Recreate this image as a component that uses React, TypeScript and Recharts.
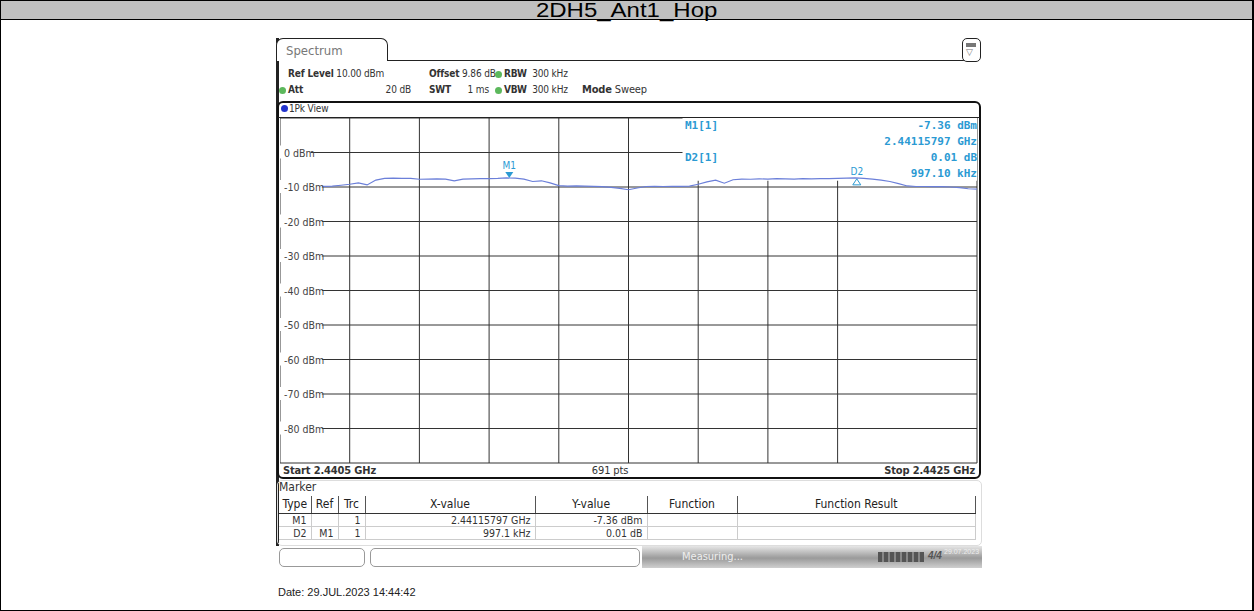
import React from 'react';
import { LineChart, Line, XAxis, YAxis, CartesianGrid, ReferenceArea, ReferenceDot } from 'recharts';

// sweep: 2.4405 GHz .. 2.4425 GHz, trace read every 25 kHz (values in dBm)
const startMHz = 2440.5;
const stopMHz = 2442.5;
const stepMHz = 0.025;
const traceLevels = [
  -10.5, -10.0, -9.9, -9.9, -9.85, -9.8, -9.75, -9.5, -9.2, -8.8,
  -9.4, -8.0, -7.5, -7.45, -7.5, -7.5, -7.75, -7.7, -7.65, -7.7,
  -8.2, -7.7, -7.65, -7.6, -7.55, -7.5, -7.38, -7.45, -7.7, -8.4,
  -8.2, -8.8, -9.6, -9.75, -9.7, -9.75, -9.8, -9.9, -10.1, -10.4,
  -10.8, -10.3, -9.85, -9.8, -9.85, -9.8, -9.8, -9.75, -9.2, -8.5,
  -8.0, -8.9, -7.9, -7.7, -7.75, -7.65, -7.7, -7.6, -7.65, -7.7,
  -7.6, -7.65, -7.6, -7.55, -7.5, -7.45, -7.37, -7.5, -7.7, -8.0,
  -8.4, -9.0, -9.7, -9.85, -9.85, -9.9, -9.9, -10.0, -10.2, -10.5,
  -10.6,
];
const freqTicks = [2440.5, 2440.7, 2440.9, 2441.1, 2441.3, 2441.5, 2441.7, 2441.9, 2442.1, 2442.3, 2442.5];
const levelTicks = [10, 0, -10, -20, -30, -40, -50, -60, -70, -80, -90];
const levelLabels = ['', '0 dBm', '-10 dBm', '-20 dBm', '-30 dBm', '-40 dBm', '-50 dBm', '-60 dBm', '-70 dBm', '-80 dBm', ''];

const markerNames = ['M1', 'D2'];
const markerRefs = ['', 'M1'];
const markerFreqMHz = [2441.15797, 2442.15507];
const markerLevels = [-7.36, -7.35];
const markerXText = ['2.44115797 GHz', '997.1 kHz'];
const markerYText = ['-7.36 dBm', '0.01 dB'];
const markerInfo = ['-7.36 dBm', '2.44115797 GHz', '0.01 dB', '997.10 kHz'];

const data = traceLevels.map((v, i) => ({ f: startMHz + i * stepMHz, v }));

const TRACE = '#6b7fd9';
const MK = '#2b9ad3';
const cond = "'DejaVu Sans Condensed', 'DejaVu Sans', sans-serif";
const mono = "'DejaVu Sans Mono', monospace";

const LevelTick = (props: any) => {
  const i = levelTicks.indexOf(props.payload.value);
  const label = levelLabels[i];
  if (!label) return null;
  const w = label.length * 5.4 + 4;
  return (
    <g>
      <rect x={0} y={props.y - 7} width={w} height={13} fill="#fff" />
      <text x={4} y={props.y + 4} fontSize={10.5} fill="#444" fontFamily={cond} style={{ fontStretch: 'condensed' }}>{label}</text>
    </g>
  );
};

const MarkerShape = (props: any) => {
  const { cx, cy, name } = props;
  if (name === 'M1') {
    return (
      <g>
        <text x={cx} y={cy - 9} fontSize={10} fill={MK} textAnchor="middle" fontFamily={cond}>{name}</text>
        <path d={`M${cx - 4},${cy - 6} L${cx + 4},${cy - 6} L${cx},${cy} Z`} fill={MK} />
      </g>
    );
  }
  return (
    <g>
      <text x={cx} y={cy - 3} fontSize={10} fill={MK} textAnchor="middle" fontFamily={cond}>{name}</text>
      <path d={`M${cx},${cy + 1} L${cx + 4},${cy + 7} L${cx - 4},${cy + 7} Z`} fill="none" stroke={MK} strokeWidth={1} />
    </g>
  );
};

const abs = (style: React.CSSProperties): React.CSSProperties => ({ position: 'absolute', ...style });

const Dot = ({ x, y, c }: { x: number; y: number; c: string }) => (
  <div style={abs({ left: x, top: y, width: 7, height: 7, borderRadius: 4, background: c })} />
);

export default function App() {
  const headStyle: React.CSSProperties = { fontFamily: cond, fontStretch: 'condensed', fontSize: 10, lineHeight: '12px', color: '#333', whiteSpace: 'nowrap', letterSpacing: -0.15 };
  const cell: React.CSSProperties = { fontFamily: cond, fontStretch: 'condensed', fontSize: 11, color: '#333', whiteSpace: 'nowrap' };
  return (
    <div style={abs({ left: 0, top: 0, width: 1254, height: 611, background: '#fff', overflow: 'hidden', fontFamily: "'Liberation Sans', Arial, sans-serif" })}>
      <div style={abs({ left: 0, top: 0, width: 1254, height: 611, border: '1px solid #000', borderRight: '2px solid #000', boxSizing: 'border-box' })} />
      <div style={abs({ left: 1, top: 1, width: 1251, height: 18, background: '#c0c0c0', borderBottom: '1px solid #000', textAlign: 'center', fontSize: 20, lineHeight: '18px', color: '#000' })}>
        <span style={{ display: 'inline-block', transform: 'scaleX(1.2)' }}>2DH5_Ant1_Hop</span>
      </div>

      {/* instrument screen */}
      <div style={abs({ left: 276, top: 38, width: 3, height: 508, background: '#222' })} />
      <div style={abs({ left: 276, top: 38, width: 112, height: 23, border: '1px solid #222', borderBottom: 'none', borderRadius: '7px 7px 0 0', boxSizing: 'border-box', background: '#fff' })}>
        <span style={{ position: 'absolute', left: 9, top: 4, fontSize: 13, color: '#777', fontFamily: cond }}>Spectrum</span>
      </div>
      <div style={abs({ left: 388, top: 60, width: 576, height: 1, background: '#222' })} />
      <div style={abs({ left: 962, top: 38, width: 19, height: 24, border: '1.5px solid #222', borderRadius: 5, boxSizing: 'border-box', background: '#fff' })}>
        <div style={abs({ left: 3, top: 4, width: 10, height: 4, background: '#777' })} />
        <div style={abs({ left: 3, top: 9, fontSize: 9, color: '#777', lineHeight: '9px' })}>▽</div>
      </div>

      <div style={abs({ left: 288, top: 68, ...headStyle })}>
        <b>Ref Level</b> 10.00 dBm
      </div>
      <div style={abs({ left: 429, top: 68, ...headStyle })}>
        <b>Offset</b> 9.86 dB
      </div>
      <Dot x={495} y={71} c="#5cb85c" />
      <div style={abs({ left: 504, top: 68, ...headStyle })}>
        <b>RBW</b>&nbsp; 300 kHz
      </div>
      <Dot x={279} y={87} c="#5cb85c" />
      <div style={abs({ left: 288, top: 84, ...headStyle })}>
        <b>Att</b>
      </div>
      <div style={abs({ left: 380, top: 84, width: 31, textAlign: 'right', ...headStyle })}>20 dB</div>
      <div style={abs({ left: 429, top: 84, ...headStyle })}>
        <b>SWT</b>
      </div>
      <div style={abs({ left: 460, top: 84, width: 29, textAlign: 'right', ...headStyle })}>1 ms</div>
      <Dot x={495} y={87} c="#5cb85c" />
      <div style={abs({ left: 504, top: 84, ...headStyle })}>
        <b>VBW</b>&nbsp; 300 kHz
      </div>
      <div style={abs({ left: 582, top: 84, ...headStyle, fontSize: 11 })}>
        <b>Mode</b> Sweep
      </div>

      {/* diagram box */}
      <div style={abs({ left: 277, top: 101, width: 704, height: 378, border: '2px solid #111', borderRadius: 6, boxSizing: 'border-box' })} />
      <Dot x={281} y={105} c="#2233cc" />
      <div style={abs({ left: 289, top: 103, ...headStyle })}>1Pk View</div>
      <div style={abs({ left: 278, top: 117, width: 702, height: 1, background: '#222' })} />

      <div style={abs({ left: 280, top: 118 })}>
        <LineChart width={698} height={346} data={data} margin={{ top: 0, right: 1, bottom: 1, left: 0 }}>
          <XAxis dataKey="f" type="number" domain={[startMHz, stopMHz]} ticks={freqTicks} hide />
          <YAxis type="number" domain={[-90, 10]} ticks={levelTicks} width={1} mirror axisLine={false} tickLine={false} tick={<LevelTick />} interval={0} zIndex={-50} />
          <CartesianGrid stroke="#333" strokeWidth={1} zIndex={-100} />
          <ReferenceArea x1={2441.655} x2={stopMHz} y1={-8.2} y2={10} fill="#fff" fillOpacity={1} stroke="none" ifOverflow="hidden" zIndex={-60} />
          <Line dataKey="v" stroke={TRACE} strokeWidth={1.2} dot={false} isAnimationActive={false} zIndex={700} />
          {markerNames.map((n, i) => (
            <ReferenceDot key={n} x={markerFreqMHz[i]} y={markerLevels[i]} r={0} shape={(p: any) => <MarkerShape {...p} name={n} />} zIndex={800} />
          ))}
        </LineChart>
      </div>

      {/* marker info */}
      <div style={abs({ left: 685, top: 119, fontFamily: mono, fontWeight: 'bold', fontSize: 11, color: MK })}>M1[1]</div>
      <div style={abs({ left: 685, top: 151, fontFamily: mono, fontWeight: 'bold', fontSize: 11, color: MK })}>D2[1]</div>
      {markerInfo.map((t, i) => (
        <div key={t} style={abs({ left: 777, top: 119 + i * 16, width: 200, textAlign: 'right', fontFamily: mono, fontWeight: 'bold', fontSize: 11, color: MK })}>{t}</div>
      ))}

      <div style={abs({ left: 283, top: 465, ...headStyle, fontSize: 11, fontWeight: 'bold' })}>Start 2.4405 GHz</div>
      <div style={abs({ left: 560, top: 465, width: 100, textAlign: 'center', ...headStyle, fontSize: 11 })}>691 pts</div>
      <div style={abs({ left: 775, top: 465, width: 200, textAlign: 'right', ...headStyle, fontSize: 11, fontWeight: 'bold' })}>Stop 2.4425 GHz</div>

      {/* marker table */}
      <div style={abs({ left: 277, top: 480, width: 705, height: 66, border: '1px solid #ddd', borderRadius: 5, boxSizing: 'border-box' })} />
      <div style={abs({ left: 279, top: 481, ...cell, fontSize: 12, lineHeight: '13px' })}>Marker</div>
      <table style={abs({ left: 279, top: 496, width: 697, borderCollapse: 'collapse' })}>
        <colgroup>
          <col style={{ width: 32 }} />
          <col style={{ width: 27 }} />
          <col style={{ width: 27 }} />
          <col style={{ width: 170 }} />
          <col style={{ width: 112 }} />
          <col style={{ width: 90 }} />
          <col />
        </colgroup>
        <thead>
          <tr style={{ height: 17 }}>
            {['Type', 'Ref', 'Trc', 'X-value', 'Y-value', 'Function', 'Function Result'].map((h) => (
              <th key={h} style={{ ...cell, fontSize: 12, lineHeight: '14px', fontWeight: 'normal', color: '#222', borderRight: '1px solid #555', borderBottom: '1px solid #333', padding: '0 3px', textAlign: 'center' }}>{h}</th>
            ))}
          </tr>
        </thead>
        <tbody>
          {markerNames.map((n, i) => (
            <tr key={n} style={{ height: 13 }}>
              {[n, markerRefs[i], '1', markerXText[i], markerYText[i], '', ''].map((c, j) => (
                <td key={j} style={{ ...cell, fontSize: 10.5, lineHeight: '12px', textAlign: j < 5 ? 'right' : 'left', padding: '0 4px', borderRight: '1px solid #ccc', borderBottom: '1px solid #ccc' }}>{c}</td>
              ))}
            </tr>
          ))}
        </tbody>
      </table>

      {/* status bar */}
      <div style={abs({ left: 279, top: 548, width: 86, height: 19, border: '1px solid #999', borderRadius: 5, boxSizing: 'border-box' })} />
      <div style={abs({ left: 370, top: 548, width: 270, height: 19, border: '1px solid #999', borderRadius: 5, boxSizing: 'border-box' })} />
      <div style={abs({ left: 642, top: 546, width: 340, height: 22, background: 'linear-gradient(#e6e6e6, #9a9a9a 55%, #cfcfcf)', overflow: 'hidden' })}>
        <span style={{ position: 'absolute', left: 40, top: 4, fontSize: 11, lineHeight: '13px', color: '#eee', fontFamily: cond }}>Measuring...</span>
        <div style={abs({ left: 236, top: 6, width: 46, height: 10, background: 'repeating-linear-gradient(90deg, #555 0 4px, #888 4px 6px)' })} />
        <span style={{ position: 'absolute', left: 286, top: 4, fontSize: 10, lineHeight: '12px', color: '#555', fontStyle: 'italic', fontWeight: 'bold' }}>4/4</span>
        <span style={{ position: 'absolute', left: 302, top: 2, fontSize: 7, lineHeight: '8px', color: '#eee' }}>29.07.2023</span>
      </div>

      <div style={abs({ left: 278, top: 586, fontSize: 11, color: '#222' })}>Date: 29.JUL.2023  14:44:42</div>
    </div>
  );
}
